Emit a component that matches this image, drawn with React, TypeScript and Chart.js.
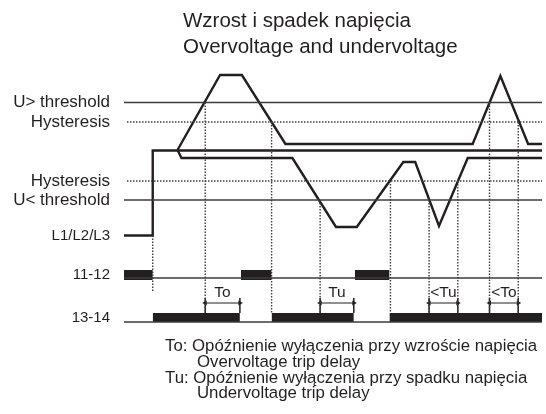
import React, { useEffect, useRef } from 'react';
import { Chart, registerables } from 'chart.js';

Chart.register(...registerables);

// ---------- text ----------
const TITLE_LINES = ['Wzrost i spadek napięcia', 'Overvoltage and undervoltage'];
const NOTE_LINES = [
  'To: Opóźnienie wyłączenia przy wzroście napięcia',
  'Overvoltage trip delay',
  'Tu: Opóźnienie wyłączenia przy spadku napięcia',
  'Undervoltage trip delay',
];
const NOTE_INDENT = [0, 1, 0, 1];

// ---------- levels (diagram units, upward) ----------
const LEVEL_LABELS = ['U> threshold', 'Hysteresis', 'Hysteresis', 'U< threshold', 'L1/L2/L3', '11-12', '13-14'];
const LEVEL_VALUES = [227.5, 208, 149, 130, 94.5, 55, 12];
const LEVEL_FONT_SIZES = [17, 17, 17, 17, 15, 15, 15];

const U_OVER = 227.5;
const HYST_HI = 208;
const HYST_LO = 149;
const U_UNDER = 130;

// time axis
const T_MAX = 422;

// supply (L1/L2/L3) switch-on step and nominal level
const supplyTimes = [0, 29, 29, 422];
const supplyValues = [94.5, 94.5, 179.5, 179.5];

// overvoltage trace
const overTimes = [54, 97, 119, 163, 352, 380, 408, 422];
const overValues = [180, 255, 255, 186, 186, 254, 186, 186];

// undervoltage trace
const underTimes = [54, 58, 170, 214, 235, 282, 294, 318, 347, 422];
const underValues = [180, 172, 172, 103, 103, 168, 168, 104, 172, 172];

// event markers (dotted verticals)
const eventTimes = [29, 82, 149, 198, 269, 308, 337, 369, 398];
const eventTops = [94.5, 227.5, 208, 130, 149, 130, 149, 227.5, 208];
const eventBottoms = [38, 17, 17, 17, 17, 17, 17, 17, 17];

// relay 11-12
const relay1112Base = 52;
const relay1112Low = 50;
const relay1112High = 60;
const relay1112Start = [0, 118, 233];
const relay1112End = [29, 149, 268];

// relay 13-14
const relay1314Base = 8;
const relay1314High = 17;
const relay1314Start = [29, 149, 268];
const relay1314End = [117, 232, 422];

// delays
const delayLabels = ['To', 'Tu', '<Tu', '<To'];
const delayStart = [82, 198, 308, 369];
const delayEnd = [117, 232, 337, 398];
const delayArrowLevel = 27;
const delayTickLow = 17;
const delayTickHigh = 32;
const delayLabelLevel = 33;

// ---------- styles ----------
const FONT = "'Liberation Sans', Arial, Helvetica, sans-serif";
const INK = '#231f20';
const THIN = '#3c3c3c';

const pts = (xs: number[], ys: number[]) => xs.map((x, i) => ({ x, y: ys[i] }));

function buildDatasets() {
  const ds: any[] = [];
  const line = (data: any[], extra: any = {}) =>
    ds.push({
      data,
      borderColor: INK,
      borderWidth: 2.4,
      pointRadius: 0,
      fill: false,
      borderJoinStyle: 'miter',
      borderCapStyle: 'butt',
      ...extra,
    });

  // thresholds & hysteresis
  line(pts([0, T_MAX], [U_OVER, U_OVER]), { borderColor: THIN, borderWidth: 1.7 });
  line(pts([3, T_MAX], [HYST_HI, HYST_HI]), { borderColor: THIN, borderWidth: 1.4, borderDash: [1.5, 1.5] });
  line(pts([3, T_MAX], [HYST_LO, HYST_LO]), { borderColor: THIN, borderWidth: 1.4, borderDash: [1.5, 1.5] });
  line(pts([0, T_MAX], [U_UNDER, U_UNDER]), { borderColor: THIN, borderWidth: 1.7 });

  // event dotted verticals
  eventTimes.forEach((t, i) =>
    line(pts([t, t], [eventTops[i], eventBottoms[i]]), { borderColor: THIN, borderWidth: 1.4, borderDash: [1.5, 1.5] })
  );

  // relay baselines
  line(pts([0, T_MAX], [relay1112Base, relay1112Base]), { borderColor: THIN, borderWidth: 1.4 });
  line(pts([0, T_MAX], [relay1314Base, relay1314Base]), { borderColor: THIN, borderWidth: 1.4 });

  // relay bars
  relay1112Start.forEach((s, i) =>
    line(pts([s, relay1112End[i]], [relay1112High, relay1112High]), {
      borderWidth: 0,
      fill: { value: relay1112Low },
      backgroundColor: INK,
    })
  );
  relay1314Start.forEach((s, i) =>
    line(pts([s, relay1314End[i]], [relay1314High, relay1314High]), {
      borderWidth: 0,
      fill: { value: relay1314Base },
      backgroundColor: INK,
    })
  );

  // voltage traces
  line(pts(supplyTimes, supplyValues));
  line(pts(overTimes, overValues));
  line(pts(underTimes, underValues));

  // delay arrows & end ticks
  delayStart.forEach((s, i) => {
    line(pts([s, delayEnd[i]], [delayArrowLevel, delayArrowLevel]), {
      borderWidth: 1,
      pointRadius: 3,
      pointStyle: 'triangle',
      pointRotation: [-90, 90],
      pointBackgroundColor: INK,
      pointBorderColor: INK,
      pointBorderWidth: 0,
    });
    line(pts([s, s], [delayTickLow, delayTickHigh]), { borderWidth: 1.5 });
    line(pts([delayEnd[i], delayEnd[i]], [delayTickLow, delayTickHigh]), { borderWidth: 1.5 });
  });

  return ds;
}

const textPlugin = {
  id: 'diagramText',
  afterDraw(chart: any) {
    const { ctx } = chart;
    const xs = chart.scales.x;
    const ys = chart.scales.y;
    ctx.save();
    ctx.fillStyle = INK;
    ctx.textBaseline = 'alphabetic';
    ctx.textAlign = 'left';
    ctx.font = `20.5px ${FONT}`;
    TITLE_LINES.forEach((t, i) => ctx.fillText(t, 183, 27 + i * 26));
    ctx.font = `16.8px ${FONT}`;
    NOTE_LINES.forEach((t, i) => ctx.fillText(t, 165 + NOTE_INDENT[i] * 32, 351 + i * 15.8));
    ctx.font = `15.5px ${FONT}`;
    ctx.textAlign = 'center';
    delayLabels.forEach((t, i) => {
      const cx = (xs.getPixelForValue(delayStart[i]) + xs.getPixelForValue(delayEnd[i])) / 2;
      ctx.fillText(t, cx, ys.getPixelForValue(delayLabelLevel));
    });
    ctx.restore();
  },
};

export default function App() {
  const ref = useRef<HTMLCanvasElement | null>(null);
  useEffect(() => {
    if (!ref.current) return;
    const chart = new Chart(ref.current, {
      type: 'line',
      data: { datasets: buildDatasets() },
      options: {
        animation: false,
        responsive: true,
        maintainAspectRatio: false,
        events: [],
        layout: { padding: { top: 60, bottom: 84, left: 0, right: 0 } },
        plugins: { legend: { display: false }, tooltip: { enabled: false }, title: { display: false } },
        scales: {
          x: { type: 'linear', min: 0, max: T_MAX, display: false },
          y: {
            type: 'linear',
            min: 0,
            max: 270,
            position: 'left',
            grid: { display: false, drawTicks: false },
            border: { display: false },
            afterBuildTicks: (scale: any) => {
              scale.ticks = LEVEL_VALUES.map((v) => ({ value: v }));
            },
            afterFit: (scale: any) => {
              scale.width = 124;
            },
            ticks: {
              autoSkip: false,
              padding: 14,
              color: INK,
              font: (c: any) => ({ family: FONT, size: LEVEL_FONT_SIZES[c.index] ?? 16 }),
              callback: (_v: any, i: number) => LEVEL_LABELS[i],
            },
          },
        },
      },
      plugins: [textPlugin],
    } as any);
    return () => chart.destroy();
  }, []);
  return (
    <div style={{ position: 'absolute', left: 0, top: 0, width: 546, height: 414, background: '#fff' }}>
      <canvas ref={ref} />
    </div>
  );
}
